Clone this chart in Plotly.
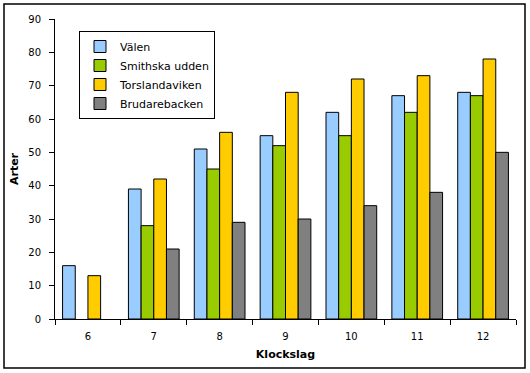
import plotly.graph_objects as go

categories = ["6", "7", "8", "9", "10", "11", "12"]
valen = [16, 39, 51, 55, 62, 67, 68]
smithska = [None, 28, 45, 52, 55, 62, 67]
torslanda = [13, 42, 56, 68, 72, 73, 78]
brudare = [None, 21, 29, 30, 34, 38, 50]

series = [
    ("Välen", valen, "#99CCFF"),
    ("Smithska udden", smithska, "#99CC00"),
    ("Torslandaviken", torslanda, "#FFCC00"),
    ("Brudarebacken", brudare, "#808080"),
]

fig = go.Figure()
for name, vals, col in series:
    fig.add_trace(go.Bar(
        x=categories, y=vals, name=name,
        marker=dict(color=col, line=dict(color="black", width=1)),
    ))

L, R, T, B = 55, 14, 19, 54
W, H = 530, 373
pw, ph = W - L - R, H - T - B

def px(x):
    return (x - L) / pw

def py(y):
    return (H - B - y) / ph

fig.update_layout(
    width=W, height=H,
    margin=dict(l=L, r=R, t=T, b=B, autoexpand=False),
    paper_bgcolor="white", plot_bgcolor="white",
    barmode="group", bargap=0.23, bargroupgap=0,
    font=dict(family="DejaVu Sans", size=10, color="black"),
    legend=dict(
        x=px(79), y=py(31), xanchor="left", yanchor="top",
        bordercolor="black", borderwidth=1, bgcolor="white",
        font=dict(size=11), tracegroupgap=0, itemwidth=30,
    ),
    xaxis=dict(
        type="category", showline=True, linecolor="black", linewidth=1,
        ticks="outside", tickson="boundaries", ticklen=5, tickcolor="black",
        showgrid=False, mirror=False, ticklabelstandoff=8,
        title=dict(text="<b>Klockslag</b>", font=dict(size=11), standoff=9),
    ),
    yaxis=dict(
        range=[0, 90], dtick=10, showline=True, linecolor="black", linewidth=1,
        ticks="outside", ticklen=5, tickcolor="black", showgrid=False,
        zeroline=False, ticklabelstandoff=6,
        title=dict(text="<b>Arter</b>", font=dict(size=11), standoff=7),
    ),
    shapes=[dict(
        type="rect", xref="paper", yref="paper",
        x0=px(4), x1=px(525), y0=py(368), y1=py(4),
        line=dict(color="black", width=1.5), fillcolor="rgba(0,0,0,0)",
        layer="below",
    )],
)

fig.write_html(
    "out.html",
    config={"displayModeBar": False},
    post_script="document.body.style.margin='0';document.body.style.overflow='hidden';",
)
